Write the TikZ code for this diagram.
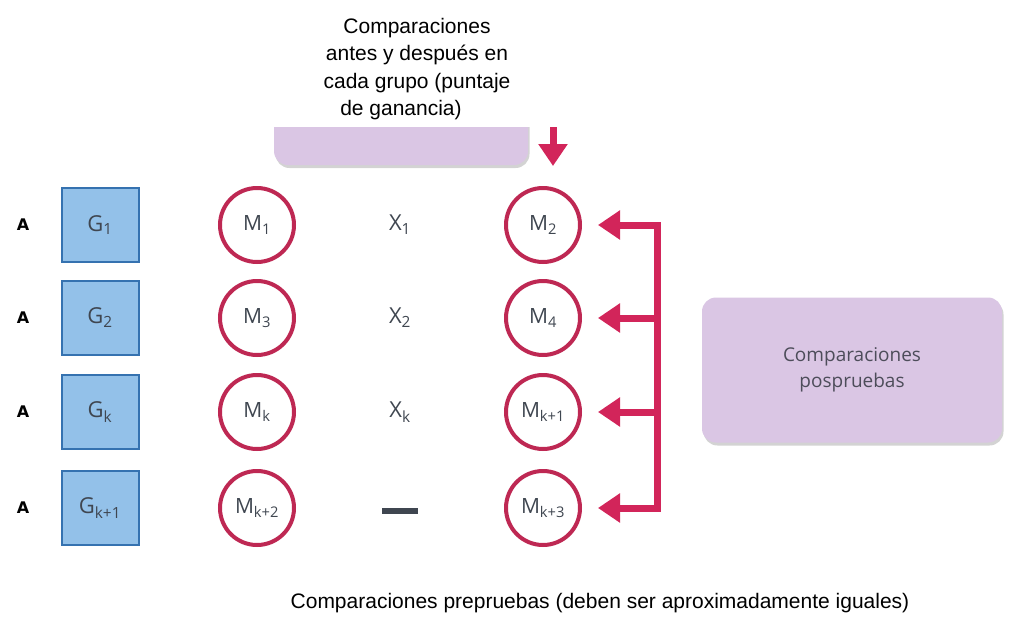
\documentclass[tikz,border=0pt]{standalone}
\usepackage{fontspec}
\setmainfont{Liberation Sans}
\newfontfamily\scanfont{Open Sans}
\newfontfamily\heavyfont{DejaVu Sans}
\usetikzlibrary{arrows.meta,shadows}
\definecolor{gblue}{HTML}{93C1E9}
\definecolor{gedge}{HTML}{3572B0}
\definecolor{ringred}{HTML}{BE2853}
\definecolor{arrowred}{HTML}{D2255A}
\definecolor{lilac}{HTML}{DAC6E4}
\definecolor{scanink}{HTML}{3F4650}
\definecolor{boxink}{HTML}{4D4D5A}

\begin{document}
\begin{tikzpicture}[
  x=1pt,y=-1pt,
  gbox/.style={draw=gedge,line width=2pt,fill=gblue,minimum width=77pt,
    minimum height=74pt,inner sep=0pt,text=scanink,
    font=\scanfont\fontsize{22}{24}\selectfont},
  meas/.style={circle,draw=ringred,line width=4pt,minimum size=74pt,
    inner sep=0pt,text=scanink,font=\scanfont\fontsize{21}{24}\selectfont},
  treat/.style={text=scanink,font=\scanfont\fontsize{22}{24}\selectfont},
  rowtag/.style={font=\heavyfont\bfseries\fontsize{16}{18}\selectfont},
  pbox/.style={fill=lilac,rounded corners=14pt,
    drop shadow={opacity=.35,shadow xshift=1.5pt,shadow yshift=-3pt}},
  redwire/.style={draw=arrowred,line width=7pt,
    -{Triangle[length=22pt,width=28pt]},shorten >=16pt},
  redbar/.style={draw=arrowred,line width=7pt,line cap=rect},
  note/.style={font=\fontsize{21}{27.3}\selectfont,align=center},
]
  \useasboundingbox (0,0) rectangle (1018,627);

  % only the lower rim of the gain box shows under the caption
  \begin{scope}
    \clip (260,127) rectangle (545,185);
    \node[pbox,minimum width=254pt,minimum height=110pt] (gainbox) at (401,110) {};
  \end{scope}
  \node[note] (gaintext) at (417,69)
    {Comparaciones\\antes y después en\\cada grupo (puntaje\hspace*{32pt}\\de ganancia)\hspace*{32pt}};

  \foreach \i/\y/\g/\ml/\mr in {1/225/1/1/2,2/318/2/3/4,3/412/k/k/k+1,4/508/k+1/k+2/k+3}{
    \node[rowtag] (a\i) at (23,\y) {A};
    \node[gbox] (g\i) at (100,\y) {G\textsubscript{\g}};
    \node[meas] (ml\i) at (257,\y) {M\textsubscript{\ml}};
    \node[meas] (mr\i) at (543,\y) {M\textsubscript{\mr}};
    \coordinate (j\i) at (657,\y);
  }
  \foreach \i/\y/\t in {1/225/1,2/318/2,3/412/k}
    \node[treat] (x\i) at (400,\y) {X\textsubscript{\t}};
  \node[treat] (x4) at (400,511) {\rule{36pt}{6pt}};

  % posttest bracket
  \draw[redbar] (j1) -- (j4);
  \foreach \i in {1,...,4}
    \draw[redwire] (j\i) -- (mr\i);
  \coordinate (drop) at (553,127);
  \draw[redwire,shorten >=20pt] (drop) -- (drop |- mr1.north);

  \node[pbox,minimum width=300pt,minimum height=145pt,align=center,
    text=boxink,font=\scanfont\fontsize{19}{26}\selectfont] (postbox) at (852,370)
    {Comparaciones\\pospruebas};

  \node[note] (pretext) at (600,603)
    {Comparaciones prepruebas (deben ser aproximadamente iguales)};
\end{tikzpicture}
\end{document}
